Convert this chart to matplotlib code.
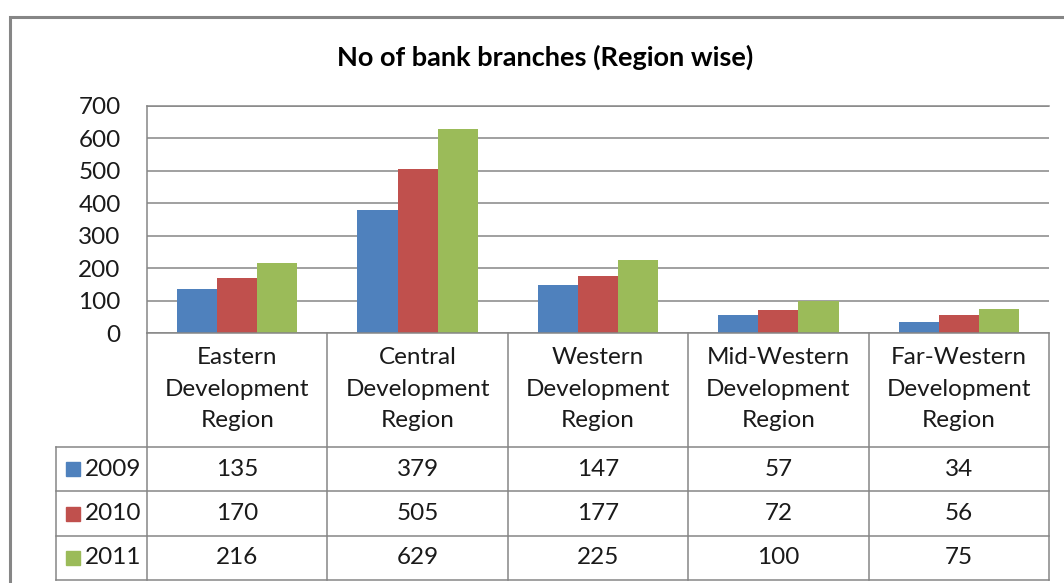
import matplotlib
matplotlib.use("Agg")
import matplotlib.pyplot as plt
from matplotlib.patches import Rectangle

# --------------------------------------------------------------------------- #
# data
# --------------------------------------------------------------------------- #
regions = [
    "Eastern\nDevelopment\nRegion",
    "Central\nDevelopment\nRegion",
    "Western\nDevelopment\nRegion",
    "Mid-Western\nDevelopment\nRegion",
    "Far-Western\nDevelopment\nRegion",
]
years = ["2009", "2010", "2011"]
branches_2009 = [135, 379, 147, 57, 34]
branches_2010 = [170, 505, 177, 72, 56]
branches_2011 = [216, 629, 225, 100, 75]
y_ticks = [0, 100, 200, 300, 400, 500, 600, 700]
title = "No of bank branches (Region wise)"

colors = ["#4F81BD", "#C0504D", "#9BBB59"]
grid_c = "#868686"
text_c = "#1a1a1a"
fs = 17.5

plt.rcParams["font.family"] = ["Lato", "DejaVu Sans"]

W, H = 1064, 583
fig = plt.figure(figsize=(W / 100, H / 100), dpi=100)


def fx(px):
    return px / W


def fy(py):
    return 1 - py / H


# outer chart border (runs off the right and bottom edges)
fig.patches.append(Rectangle((fx(10), fy(600)), fx(1100) - fx(10), (600 - 17) / H,
                             transform=fig.transFigure, fill=False,
                             edgecolor=grid_c, lw=2.2))

fig.text(fx(545), fy(57), title, ha="center", va="center",
         fontsize=19.5, fontweight="bold", color="black")

# --------------------------------------------------------------------------- #
# plot area
# --------------------------------------------------------------------------- #
left, right, top, zero = 147, 1049, 106, 333
ax = fig.add_axes([fx(left), fy(zero), (right - left) / W, (zero - top) / H])
n = len(regions)
bar_w = 1 / 4.5  # Excel's default 150% gap width
series = [branches_2009, branches_2010, branches_2011]
for k, vals in enumerate(series):
    xs = [i + 0.5 + (k - 1) * bar_w for i in range(n)]
    ax.bar(xs, vals, width=bar_w, color=colors[k], zorder=2)

ax.set_xlim(0, n)
ax.set_ylim(0, 700)
ax.set_yticks(y_ticks)
ax.set_xticks([])
ax.yaxis.grid(True, color=grid_c, lw=1.1, zorder=0)
ax.set_axisbelow(True)
ax.spines["right"].set_visible(False)
for s in ("left", "bottom", "top"):
    ax.spines[s].set_color(grid_c)
    ax.spines[s].set_linewidth(1.1)
ax.tick_params(axis="y", length=0, pad=19, labelsize=fs, labelcolor=text_c)

# --------------------------------------------------------------------------- #
# data table under the plot
# --------------------------------------------------------------------------- #
tbl_left, tbl_bottom = 56, 580
col_px = (right - left) / n
leg_w = (left - tbl_left) / col_px
header_h = 447 - zero
row_h = (tbl_bottom - 447) / 3
total_h = tbl_bottom - zero

tax = fig.add_axes([fx(tbl_left), fy(tbl_bottom), (right - tbl_left) / W, total_h / H])
tax.set_xlim(-leg_w, n)
tax.set_ylim(total_h, 0)
tax.axis("off")

line_kw = dict(color=grid_c, lw=1.1, clip_on=False)
for i in range(n + 1):
    tax.plot([i, i], [0, total_h], **line_kw)
tax.plot([-leg_w, -leg_w], [header_h, total_h], **line_kw)
for r in range(4):
    y = header_h + r * row_h
    tax.plot([-leg_w, n], [y, y], **line_kw)

for i, name in enumerate(regions):
    tax.text(i + 0.5, header_h / 2 - 1, name, ha="center", va="center",
             fontsize=fs, color=text_c, linespacing=1.62)

for k, (yr, vals) in enumerate(zip(years, series)):
    yc = header_h + (k + 0.5) * row_h
    tax.add_patch(Rectangle((-leg_w + 10 / col_px, yc - 7), 14 / col_px, 14,
                            color=colors[k], clip_on=False))
    tax.text(-leg_w + 29 / col_px, yc, yr, ha="left", va="center",
             fontsize=fs, color=text_c)
    for i, v in enumerate(vals):
        tax.text(i + 0.5, yc, str(v), ha="center", va="center",
                 fontsize=fs, color=text_c)

fig.savefig("out.png", dpi=100)
